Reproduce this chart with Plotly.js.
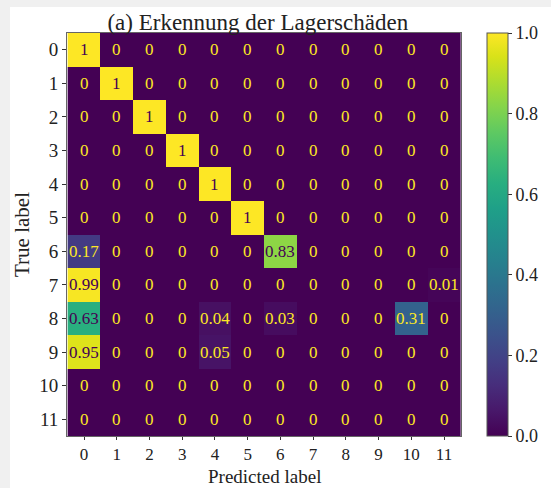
<!DOCTYPE html>
<html>
<head>
<meta charset="utf-8">
<script src="https://cdn.plot.ly/plotly-3.0.1.min.js"></script>
<style>
html,body{margin:0;padding:0;background:#f0f0f0;width:551px;height:488px;overflow:hidden;}
#chart{position:absolute;left:10px;top:7px;width:541px;height:481px;background:#fff;}
</style>
</head>
<body>
<div id="chart"></div>
<script>
const predictedLabels = ["0","1","2","3","4","5","6","7","8","9","10","11"];
const trueLabels = ["0","1","2","3","4","5","6","7","8","9","10","11"];
const row0  = [1,0,0,0,0,0,0,0,0,0,0,0];
const row1  = [0,1,0,0,0,0,0,0,0,0,0,0];
const row2  = [0,0,1,0,0,0,0,0,0,0,0,0];
const row3  = [0,0,0,1,0,0,0,0,0,0,0,0];
const row4  = [0,0,0,0,1,0,0,0,0,0,0,0];
const row5  = [0,0,0,0,0,1,0,0,0,0,0,0];
const row6  = [0.17,0,0,0,0,0,0.83,0,0,0,0,0];
const row7  = [0.99,0,0,0,0,0,0,0,0,0,0,0.01];
const row8  = [0.63,0,0,0,0.04,0,0.03,0,0,0,0.31,0];
const row9  = [0.95,0,0,0,0.05,0,0,0,0,0,0,0];
const row10 = [0,0,0,0,0,0,0,0,0,0,0,0];
const row11 = [0,0,0,0,0,0,0,0,0,0,0,0];
const matrix = [row0,row1,row2,row3,row4,row5,row6,row7,row8,row9,row10,row11];

const font = "Liberation Serif";
const plotH = 403;
const annotations = [];
matrix.forEach((row, i) => {
  row.forEach((v, j) => {
    annotations.push({
      x: predictedLabels[j], y: trueLabels[i], xref: 'x', yref: 'y',
      text: String(v), showarrow: false,
      font: {family: font, size: 17, color: v < 0.5 ? '#fde725' : '#440154'}
    });
  });
});
annotations.push({
  text: 'Predicted label', xref: 'paper', yref: 'paper', x: 0.5, y: -52/plotH,
  xanchor: 'center', yanchor: 'bottom', showarrow: false, borderpad: 0,
  font: {family: font, size: 19, color: '#222'}
});

const trace = {
  type: 'heatmap',
  x: predictedLabels, y: trueLabels, z: matrix,
  colorscale: 'Viridis', zmin: 0, zmax: 1,
  xgap: 0, ygap: 0,
  colorbar: {
    x: 1.066, xanchor: 'left', y: 0.5, yanchor: 'middle',
    len: 1, lenmode: 'fraction', thickness: 21, thicknessmode: 'pixels',
    outlinewidth: 1, outlinecolor: '#555',
    tickvals: [0,0.2,0.4,0.6,0.8,1.0], ticktext: ['0.0','0.2','0.4','0.6','0.8','1.0'],
    ticks: 'outside', ticklen: 4, tickcolor: '#333',
    tickfont: {family: font, size: 18, color: '#222'}, xpad: 0, ypad: 0
  },
  hoverinfo: 'none'
};

const layout = {
  width: 541, height: 481,
  margin: {l: 57, r: 78, t: 26, b: 52, pad: 0},
  paper_bgcolor: '#ffffff', plot_bgcolor: '#ffffff',
  title: {text: '(a) Erkennung der Lagerschäden', font: {family: font, size: 23, color: '#222'},
          x: 0.458, xanchor: 'center', xref: 'container',
          y: 0.952, yanchor: 'bottom', yref: 'container'},
  xaxis: {
    type: 'category', tickvals: predictedLabels, ticktext: predictedLabels,
    ticks: 'outside', ticklen: 3, tickcolor: '#333', showgrid: false, zeroline: false,
    showline: true, linecolor: '#666', linewidth: 1, mirror: true,
    tickfont: {family: font, size: 17, color: '#222'}
  },
  yaxis: {
    type: 'category', autorange: 'reversed', tickvals: trueLabels, ticktext: trueLabels,
    ticks: 'outside', ticklen: 4, tickcolor: '#333', showgrid: false, zeroline: false,
    showline: true, linecolor: '#666', linewidth: 1, mirror: true,
    tickfont: {family: font, size: 19, color: '#222'},
    title: {text: 'True label', font: {family: font, size: 21, color: '#222'}, standoff: 6}
  },
  annotations: annotations
};

Plotly.newPlot('chart', [trace], layout, {displayModeBar: false, staticPlot: true});
</script>
</body>
</html>
